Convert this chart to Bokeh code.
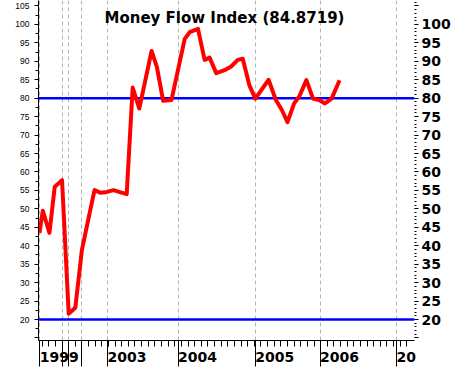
from bokeh.plotting import figure
from bokeh.models import Range1d, LinearAxis, FixedTicker, Span, Label, Grid
from bokeh.embed import file_html
from bokeh.resources import INLINE

# ---- data (x = bar position, y = MFI value) ----
period = [0.15, 0.65, 1.65, 2.45, 3.55, 4.55, 5.55, 6.55, 7.55, 8.45, 9.3, 10.35,
          11.3, 12.15, 13.3, 14.2, 15.2, 17.05, 17.85, 18.8, 20.05, 22.05, 22.8,
          24.05, 25.05, 25.8, 26.8, 28.05, 29.05, 30.05, 30.8, 31.8, 32.7, 34.7,
          35.8, 36.7, 37.55, 38.55, 39.3, 40.4, 41.4, 42.3, 43.2, 44.2, 45.4]
mfi = [43.5, 49.5, 43.5, 56.0, 57.8, 21.6, 23.2, 38.9, 47.5, 55.1, 54.4, 54.6,
       55.1, 54.6, 54.0, 82.9, 77.2, 92.8, 88.5, 79.3, 79.5, 96.1, 97.9,
       98.8, 90.4, 91.0, 86.8, 87.6, 88.6, 90.4, 90.7, 83.5, 79.9, 85.0,
       79.5, 76.8, 73.5, 78.6, 80.4, 84.9, 79.9, 79.5, 78.6, 79.9, 84.8719]

year_pos = [0.2, 3.65, 4.55, 6.55, 10.4, 21.05, 32.7, 42.45, 54.0]
year_names = ["1999", "2000", "2001", "2002", "2003", "2004", "2005", "2006", "2007"]
year_shown = {"1999": "1999", "2003": "2003", "2004": "2004", "2005": "2005",
              "2006": "2006", "2007": "20"}
bar_ticks = [0.55 + k for k in range(56)]

left_major = list(range(15, 110, 5))
left_minor = [15 + 2.5 * k for k in range(37)]
right_major = list(range(15, 110, 5))
right_minor = list(range(15, 107))

overbought = 80
oversold = 20
latest = 84.8719
title_text = "Money Flow Index (%s)" % latest

p = figure(width=453, height=367, x_range=Range1d(0, 56.7), y_range=Range1d(14.32, 106.49),
           x_axis_location=None, y_axis_location=None,
           output_backend="svg", toolbar_location=None,
           min_border_left=38, min_border_right=37, min_border_top=0, min_border_bottom=26,
           outline_line_color=None, background_fill_color="white", border_fill_color="white")
p.grid.visible = False

p.add_layout(Grid(dimension=0, ticker=FixedTicker(ticks=year_pos),
                  grid_line_color="#b4b4b4", grid_line_dash="4 3", grid_line_width=1))

left = LinearAxis(ticker=FixedTicker(ticks=left_major, minor_ticks=left_minor),
                  major_label_overrides={15: ""},
                  major_tick_out=4, major_tick_in=0, minor_tick_out=3, minor_tick_in=0,
                  axis_line_color="black", major_tick_line_color="black", minor_tick_line_color="black",
                  major_label_text_font="Liberation Sans", major_label_text_font_size="8.5px",
                  major_label_text_color="black", major_label_standoff=5)
p.add_layout(left, "left")

right = LinearAxis(ticker=FixedTicker(ticks=right_major, minor_ticks=right_minor),
                   major_label_overrides={15: "", 105: ""},
                   axis_line_color=None, major_tick_out=4, major_tick_in=0,
                   minor_tick_out=2, minor_tick_in=0,
                   major_tick_line_color="black", minor_tick_line_color="black",
                   major_label_text_font="DejaVu Sans", major_label_text_font_style="bold",
                   major_label_text_font_size="14px", major_label_text_color="black",
                   major_label_standoff=3)
p.add_layout(right, "right")

# year labels sit to the right of their year tick: pad them on the left with no-break spaces
NBSP = "\u00a0"
year_overrides = {}
for pos, name in zip(year_pos, year_names):
    if name in year_shown:
        txt = year_shown[name]
        year_overrides[pos] = NBSP * (2 * len(txt)) + txt
    else:
        year_overrides[pos] = ""

below = LinearAxis(ticker=FixedTicker(ticks=year_pos, minor_ticks=bar_ticks),
                   major_label_overrides=year_overrides,
                   major_tick_out=26, major_tick_in=0, minor_tick_out=6, minor_tick_in=0,
                   axis_line_color="black", major_tick_line_color="black", minor_tick_line_color="black",
                   major_label_text_font="DejaVu Sans", major_label_text_font_style="bold",
                   major_label_text_font_size="14px", major_label_text_color="black",
                   major_label_standoff=-18)
p.add_layout(below, "below")

for lvl in (overbought, oversold):
    p.add_layout(Span(location=lvl, dimension="width", line_color="#0000ff",
                      line_width=2.5, level="underlay"))

p.line(period, mfi, line_color="#ff0000", line_width=4, line_join="round")

p.add_layout(Label(x=66, y=323, x_units="screen", y_units="screen", text=title_text,
                   text_font="DejaVu Sans", text_font_style="bold", text_font_size="15px",
                   text_color="black", text_baseline="alphabetic", text_align="left"))

open("out.html", "w").write(file_html(p, INLINE))
